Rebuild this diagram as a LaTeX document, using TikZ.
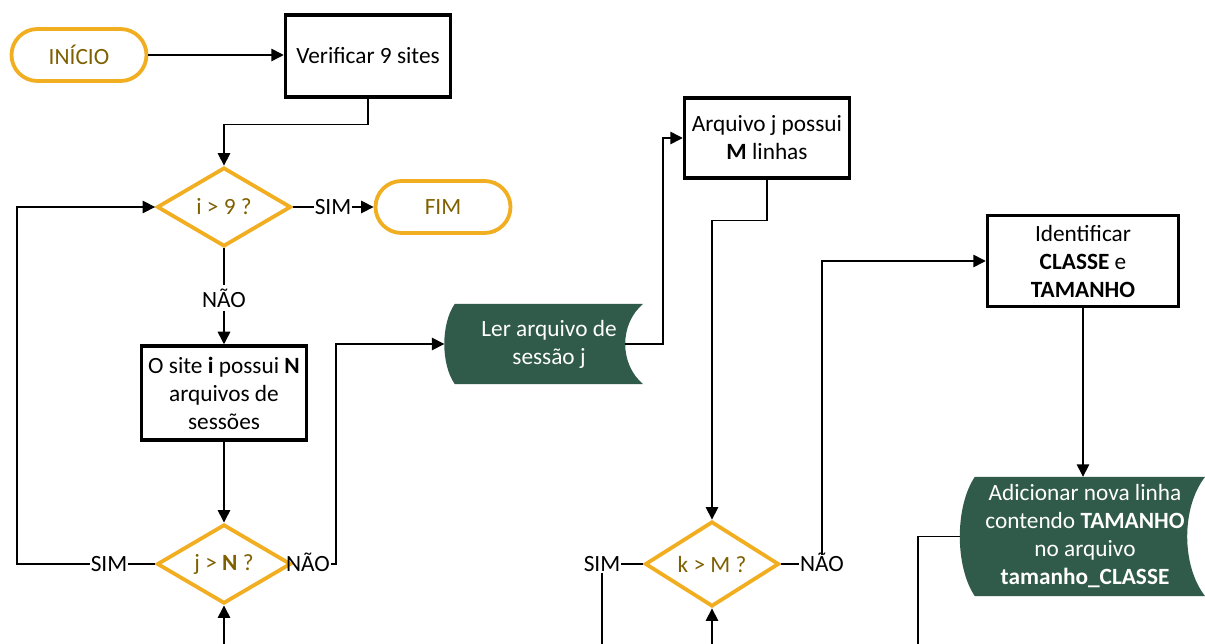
\documentclass[tikz,border=0pt]{standalone}
\usepackage{fontspec}
\setmainfont{Carlito}
\usetikzlibrary{shapes.geometric,arrows.meta,backgrounds,calc}
\definecolor{gold}{RGB}{240,174,32}
\definecolor{goldtext}{RGB}{127,96,0}
\definecolor{storegreen}{RGB}{48,90,74}
\begin{document}
\begin{tikzpicture}[x=1pt,y=-1pt,
  font=\fontsize{23.3}{28}\selectfont,
  conn/.style={line width=1.5pt},
  arr/.style={conn,-{Triangle[length=12.5pt,width=12.5pt]}},
  term/.style={draw=gold, line width=3.8pt, rounded corners=26pt,
    minimum width=135pt, minimum height=52pt, text=goldtext, inner sep=0pt},
  decision/.style={diamond, draw=gold, line width=3.8pt, minimum width=134pt,
    minimum height=79pt, text=goldtext, inner sep=0pt},
  process/.style={draw, line width=3.5pt, align=center, inner sep=0pt},
  store/.style={text=white, align=center, inner sep=0pt},
  lbl/.style={inner sep=1pt, text height=15pt, text depth=0pt}
]
\useasboundingbox (0,0) rectangle (1205,644);

% terminals
\node[term] (ini) at (79,55) {INÍCIO};
\node[term] (fim) at (443,207) {FIM};

% processes
\node[process, minimum width=165pt, minimum height=82pt] (ver) at (368,56) {Verificar 9 sites};
\node[process, minimum width=165pt, minimum height=94pt] (site) at (224,393)
  {O site \textbf{i} possui \textbf{N}\\arquivos de\\sessões};
\node[process, minimum width=165pt, minimum height=80pt] (arq) at (767,138)
  {Arquivo j possui\\\textbf{M} linhas};
\node[process, minimum width=191pt, minimum height=91pt] (ident) at (1083,261)
  {Identificar\\\textbf{CLASSE} e\\\textbf{TAMANHO}};

% decisions
\node[decision] (i9) at (224,207) {i > 9 ?};
\node[decision] (jn) at (224,564) {j > \textbf{N} ?};
\node[decision] (km) at (712,564) {k > M ?};

% stored data
\node[store, minimum width=188pt, minimum height=80pt] (ler) at (549,344)
  {Ler arquivo de\\sessão j};
\node[store, minimum width=220pt, minimum height=119pt] (add) at (1085,536.5)
  {Adicionar nova linha\\contendo \textbf{TAMANHO}\\no arquivo\\\textbf{tamanho\_CLASSE}};
\begin{scope}[on background layer]
  \fill[storegreen] (ler.north west)
    .. controls ($(ler.north west)+(-14,20)$) and ($(ler.south west)+(-14,-20)$) .. (ler.south west)
    -- (ler.south east)
    .. controls ($(ler.south east)+(-24,-20)$) and ($(ler.north east)+(-24,20)$) .. (ler.north east)
    -- cycle;
  \fill[storegreen] (add.north west)
    .. controls ($(add.north west)+(-20,30)$) and ($(add.south west)+(-20,-30)$) .. (add.south west)
    -- ($(add.south east)+(10,0)$)
    .. controls ($(add.south east)+(-14,-30)$) and ($(add.north east)+(-14,30)$) .. ($(add.north east)+(10,0)$)
    -- cycle;
\end{scope}
\coordinate (ler-in) at ([xshift=-10.5pt]ler.west);
\coordinate (ler-out) at ([xshift=-18pt]ler.east);
\coordinate (add-out) at ([xshift=-15pt]add.west);

% branch labels
\node[lbl] (sim1) at (333,207) {SIM};
\node[inner sep=3pt] (nao1) at (224,298) {NÃO};
\node[lbl] (sim2) at (109,564) {SIM};
\node[lbl] (nao2) at (308,564) {NÃO};
\node[lbl] (sim3) at (602,564) {SIM};
\node[lbl] (nao3) at (822,564) {NÃO};

% loose ends at the lower edge
\coordinate (jn-from) at (224,644);
\coordinate (km-from) at (712,644);
\coordinate (sim3-to) at (602,644);
\coordinate (add-to) at (918,644);

% connectors
\draw[arr] (ini.east) -- (ini.east -| ver.west);
\draw[arr] (ver.south) -- ++(0,26) -| (i9.north);
\draw[conn] (i9.east) -- (sim1.west);
\draw[arr] (sim1.east) -- (fim.west);
\draw[conn] (i9.south) -- (nao1.north);
\draw[arr] (nao1.south) -- (site.north);
\draw[arr] (site.south) -- (jn.north);
\draw[arr] (jn-from) -- (jn.south);
\draw[conn] (jn.west) -- (sim2.east);
\draw[arr] (sim2.west) -- (17,564) |- (i9.west);
\draw[arr] (nao2.east) -- ++(5,0) |- (ler-in);
\draw[arr] (ler-out) -- ++(38,0) |- (arq.west);
\draw[arr] (arq.south) -- ++(0,41) -| (km.north);
\draw[arr] (km-from) -- (km.south);
\draw[conn] (km.west) -- (sim3.east);
\draw[conn] (sim3.south) -- (sim3-to);
\draw[conn] (km.east) -- (nao3.west);
\draw[arr] (nao3.north) |- (ident.west);
\draw[arr] (ident.south) -- (ident.south |- add.north);
\draw[conn] (add-out) -| (add-to);
\end{tikzpicture}
\end{document}
